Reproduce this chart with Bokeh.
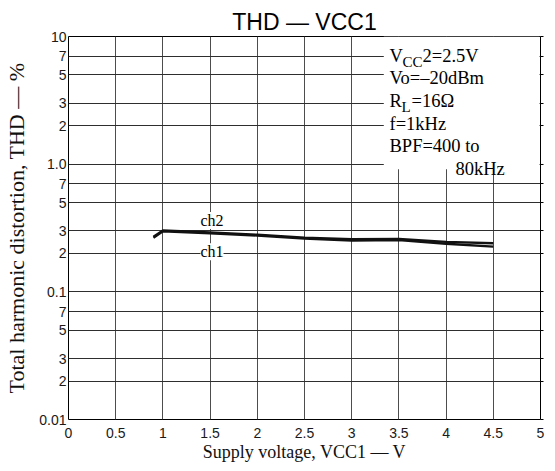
from bokeh.plotting import figure
from bokeh.models import (Label, FixedTicker, CustomJSTickFormatter, LogAxis,
                          Range1d, BoxAnnotation)
from bokeh.embed import file_html
from bokeh.resources import INLINE

# ---------------- data ----------------
voltage = [0.9, 1.0, 1.5, 2.0, 2.5, 3.0, 3.5, 4.0, 4.5]
thd_ch2 = [0.270, 0.302, 0.292, 0.280, 0.266, 0.258, 0.260, 0.246, 0.240]
thd_ch1 = [0.265, 0.298, 0.288, 0.276, 0.262, 0.252, 0.254, 0.238, 0.226]

x_ticks = [0, 0.5, 1, 1.5, 2, 2.5, 3, 3.5, 4, 4.5, 5]
x_tick_labels = ["0", "0.5", "1", "1.5", "2", "2.5", "3", "3.5", "4", "4.5", "5"]
y_ticks = [0.01, 0.02, 0.03, 0.05, 0.07, 0.1, 0.2, 0.3, 0.5, 0.7,
           1, 2, 3, 5, 7, 10]
y_tick_labels = ["0.01", "2", "3", "5", "7", "0.1", "2", "3", "5", "7",
                 "1.0", "2", "3", "5", "7", "10"]

conditions = ["VCC2=2.5V", "Vo=–20dBm", "RL=16Ω", "f=1kHz", "BPF=400 to", "80kHz"]

# ---------------- figure ----------------
p = figure(width=555, height=471, x_range=Range1d(0, 5), y_range=Range1d(0.01, 10),
           y_axis_type="log", output_backend="svg", toolbar_location=None,
           min_border_left=68, min_border_right=15, min_border_top=36,
           min_border_bottom=52, background_fill_color="white",
           border_fill_color="white",
           title="THD — VCC1",
           x_axis_label="Supply voltage, VCC1 — V",
           y_axis_label="Total harmonic distortion, THD — %")

p.title.align = "center"
p.title.text_font = "Liberation Sans"
p.title.text_font_style = "normal"
p.title.text_font_size = "23px"
p.title.text_color = "black"
p.title.standoff = 3

p.outline_line_color = "black"
p.outline_line_width = 1

p.xaxis.ticker = FixedTicker(ticks=x_ticks, minor_ticks=[])
p.yaxis.ticker = FixedTicker(ticks=y_ticks, minor_ticks=[])
p.xaxis.formatter = CustomJSTickFormatter(args=dict(tv=x_ticks, tl=x_tick_labels), code="""
let b = 0, d = Infinity;
for (let i = 0; i < tv.length; i++) { const e = Math.abs(tv[i] - tick); if (e < d) { d = e; b = i; } }
return tl[b];
""")
p.yaxis.formatter = CustomJSTickFormatter(args=dict(tv=y_ticks, tl=y_tick_labels), code="""
let b = 0, d = Infinity;
for (let i = 0; i < tv.length; i++) { const e = Math.abs(Math.log(tv[i]) - Math.log(tick)); if (e < d) { d = e; b = i; } }
return tl[b];
""")
for ax in (p.xaxis[0], p.yaxis[0]):
    ax.axis_line_color = None
    ax.major_tick_line_color = None
    ax.minor_tick_line_color = None
    ax.major_tick_in = 0
    ax.major_tick_out = 0
    ax.minor_tick_in = 0
    ax.minor_tick_out = 0
    ax.major_label_text_font = "Liberation Sans"
    ax.major_label_text_font_size = "14px"
    ax.major_label_text_color = "#1a1a1a"
    ax.axis_label_text_font = "Liberation Serif"
    ax.axis_label_text_font_style = "normal"
    ax.axis_label_text_color = "#111111"
p.xaxis.major_label_standoff = 8
p.yaxis.major_label_standoff = 2
p.xaxis.axis_label_text_font_size = "18px"
p.xaxis.axis_label_standoff = 1
p.yaxis.axis_label_text_font_size = "22px"
p.yaxis.axis_label_standoff = 7

right_axis = LogAxis(ticker=FixedTicker(ticks=y_ticks, minor_ticks=[]),
                     formatter=CustomJSTickFormatter(code="return '';"),
                     axis_line_color=None, major_tick_in=0, major_tick_out=3,
                     major_tick_line_color="black", minor_tick_line_color=None,
                     major_label_standoff=0)
p.add_layout(right_axis, "right")

p.xgrid.grid_line_color = "#4d4d4d"
p.ygrid.grid_line_color = "#2e2e2e"
p.xgrid.grid_line_width = 1
p.ygrid.grid_line_width = 1

# curves
p.line(voltage, thd_ch2, line_color="#111111", line_width=2.4, line_join="round")
p.line(voltage, thd_ch1, line_color="#111111", line_width=2.4, line_join="round")

FRAME_L, FRAME_B = 68, 419


def slabel(xi, yi, text, size, font="Liberation Serif"):
    p.add_layout(Label(x=xi - FRAME_L, y=FRAME_B - yi, x_units="screen", y_units="screen",
                       text=text, text_font=font, text_font_size=f"{size}px",
                       text_align="left", text_baseline="alphabetic",
                       text_color="black"))


# conditions (inside the frame); subscripts set as smaller lowered runs
c0 = conditions[0]
slabel(389, 55, c0[0], 18.5)
slabel(402, 61, c0[1:3], 15)
slabel(422, 55, c0[3:], 18.5)
slabel(389, 77, conditions[1], 18.5)
c2 = conditions[2]
slabel(389, 100, c2[0], 18.5)
slabel(401, 106, c2[1], 15)
slabel(411, 100, c2[2:], 18.5)
slabel(389, 123, conditions[3], 18.5)
slabel(389, 145, conditions[4], 18.5)
slabel(455, 168, conditions[5], 18.5)

# curve labels
for txt, yv in (("ch2", 0.362), ("ch1", 0.2065)):
    p.add_layout(Label(x=1.52, y=yv, text=txt, text_font="Liberation Serif",
                       text_font_size="16px", text_align="center", text_baseline="middle",
                       background_fill_color="white", background_fill_alpha=1,
                       text_color="black"))

# white area behind condition text
p.add_layout(BoxAnnotation(left=3.34, right=4.99, bottom=0.913, top=10,
                           fill_color="white", fill_alpha=1, line_color=None,
                           level="underlay"))

open("out.html", "w").write(file_html(p, INLINE))
